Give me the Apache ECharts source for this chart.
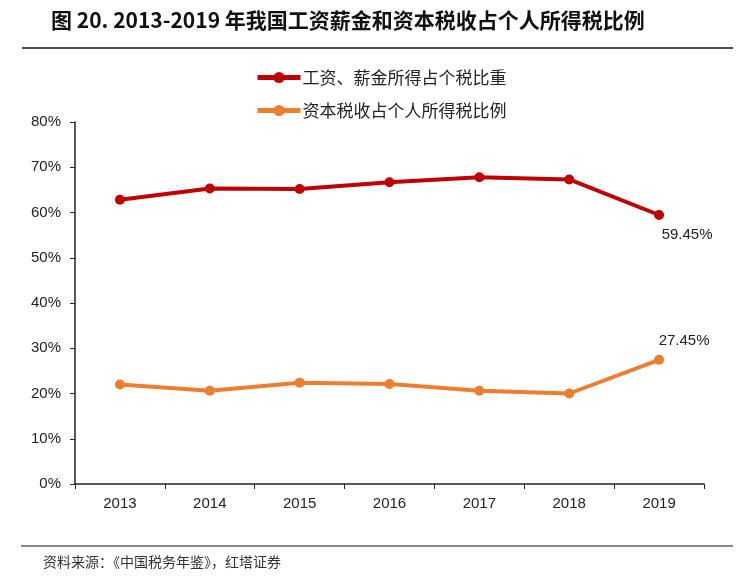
<!DOCTYPE html>
<html>
<head>
<meta charset="utf-8">
<script src="https://cdn.jsdelivr.net/npm/echarts@6/dist/echarts.min.js"></script>
<style>
html,body{margin:0;padding:0;background:#fff;}
#main{width:756px;height:584px;}
</style>
</head>
<body>
<div id="main"></div>
<script>
var titleText = '图 20. 2013-2019 年我国工资薪金和资本税收占个人所得税比例';
var sourceText = '资料来源：《中国税务年鉴》，红塔证券';
var categories = ['2013', '2014', '2015', '2016', '2017', '2018', '2019'];
var seriesNames = ['工资、薪金所得占个税比重', '资本税收占个人所得税比例'];
var wageShare = [62.8, 65.3, 65.2, 66.7, 67.8, 67.3, 59.45];
var capitalShare = [22.0, 20.6, 22.4, 22.1, 20.6, 20.0, 27.45];
var yTicks = [0, 10, 20, 30, 40, 50, 60, 70, 80];

var chart = echarts.init(document.getElementById('main'));
var lastIdx = categories.length - 1;
function lastLabel(pos, offset) {
  return {
    show: true,
    position: pos,
    offset: offset,
    formatter: function (p) { return p.dataIndex === lastIdx ? p.value.toFixed(2) + '%' : ''; },
    fontFamily: 'Liberation Sans, Arial, sans-serif',
    fontSize: 15,
    color: '#222'
  };
}
chart.setOption({
  animation: false,
  textStyle: { fontFamily: 'Liberation Sans, Arial, sans-serif' },
  title: {
    text: titleText,
    left: 46,
    top: 5,
    textStyle: { fontFamily: 'Noto Sans CJK SC, sans-serif', fontSize: 21, fontWeight: 'bold', color: '#111' }
  },
  legend: {
    orient: 'vertical',
    left: 250,
    top: 64,
    itemGap: 16,
    itemWidth: 43,
    itemHeight: 14,
    lineStyle: { width: 5 },
    textStyle: { fontFamily: 'Noto Sans CJK SC, sans-serif', fontSize: 17, color: '#222', padding: [0, 0, 0, -3] },
    data: seriesNames
  },
  grid: { left: 75, right: 52, top: 122, bottom: 100, containLabel: false },
  xAxis: {
    type: 'category',
    data: categories,
    boundaryGap: true,
    axisLine: { lineStyle: { color: '#222', width: 1.5 } },
    axisTick: { show: true, length: 5, inside: false, lineStyle: { color: '#222' } },
    axisLabel: { fontSize: 15, color: '#222', margin: 12 }
  },
  yAxis: {
    type: 'value',
    min: 0,
    max: 80,
    interval: 10,
    axisLine: { show: true, lineStyle: { color: '#222', width: 1.5 } },
    axisTick: { show: true, length: 5, lineStyle: { color: '#222' } },
    splitLine: { show: false },
    axisLabel: { fontSize: 15, color: '#222', margin: 14, formatter: function (v) { return yTicks.indexOf(v) >= 0 ? v + '%' : ''; } }
  },
  graphic: [
    { type: 'line', shape: { x1: 22, y1: 48, x2: 733, y2: 48 }, style: { stroke: '#111', lineWidth: 1.5 } },
    { type: 'line', shape: { x1: 21, y1: 546, x2: 733, y2: 546 }, style: { stroke: '#111', lineWidth: 1.2 } },
    { type: 'text', left: 43, top: 555, style: { text: sourceText, font: '14px "Noto Sans CJK SC", sans-serif', fill: '#333' } }
  ],
  series: [
    {
      name: seriesNames[0],
      type: 'line',
      data: wageShare,
      symbol: 'circle',
      symbolSize: 10,
      color: '#C00000',
      lineStyle: { width: 4, color: '#C00000' },
      itemStyle: { color: '#C00000' },
      label: lastLabel('bottom', [28, 2])
    },
    {
      name: seriesNames[1],
      type: 'line',
      data: capitalShare,
      symbol: 'circle',
      symbolSize: 10,
      color: '#ED7D31',
      lineStyle: { width: 4, color: '#ED7D31' },
      itemStyle: { color: '#ED7D31' },
      label: lastLabel('top', [25, -1])
    }
  ]
});
</script>
</body>
</html>
